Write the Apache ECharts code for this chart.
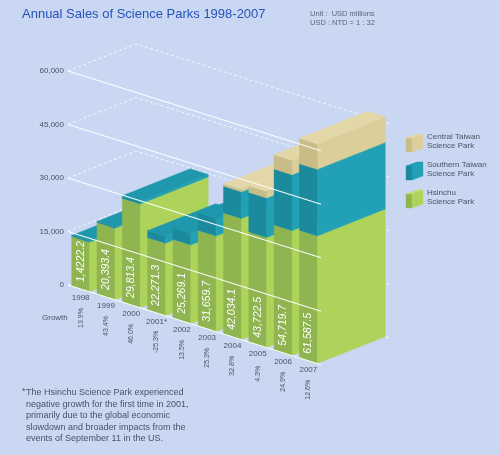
<!DOCTYPE html>
<html>
<head>
<meta charset="utf-8">
<script src="https://cdn.jsdelivr.net/npm/echarts@6/dist/echarts.min.js"></script>
<style>
html,body{margin:0;padding:0;background:#c9d7f3;}
#chart{width:500px;height:455px;}
</style>
</head>
<body>
<div id="chart"></div>
<script>
// ---- data ----
const years = ['1998','1999','2000','2001*','2002','2003','2004','2005','2006','2007'];
const hsinchu  = [13900, 20050, 29060, 20300, 22040, 26800, 33940, 30840, 35000, 35740];
const southern = [322.2, 343.4, 753.4, 1971.3, 3229.1, 4859.7, 7494.1, 11082.5, 15700, 18700];
const central  = [0, 0, 0, 0, 0, 0, 600, 1800, 4019.7, 7147.5];
const totalLabels = ['1,4222.2','20,393.4','29,813.4','22,271.3','25,269.1','31,659.7','42,034.1','43,722.5','54,719.7','61,587.5'];
const growth = ['13.9%','43.4%','46.0%','-25.3%','13.5%','25.3%','32.8%','4.3%','24.9%','12.6%'];
const yTicks = [0, 15000, 30000, 45000, 60000];
const parkNames = ['Central Taiwan\nScience Park', 'Southern Taiwan\nScience Park', 'Hsinchu\nScience Park'];

// ---- style ----
const SLOPE = 0.315;          // oblique skew of the category direction
const DEPTH = [68, -27];      // depth vector of the boxes (px)
const HALF_W = 0.355;         // half bar width in category units
const FONT = '"Liberation Sans", Arial, sans-serif';
const TEXT_COL = '#4c5164';
const COLORS = {
  green: {front: '#8fb550', side: '#aed35b', top: '#bcdc6c'},
  teal:  {front: '#1b8a9d', side: '#22a1b6', top: '#1f97ad'},
  tan:   {front: '#c8bd87', side: '#dbce9a', top: '#e3d7a8'}
};

function makeP(api) {
  const X0 = api.coord([-0.5, 0])[0];
  return function (x, y) {
    const p = api.coord([x, y]);
    return [p[0], p[1] + SLOPE * (p[0] - X0)];
  };
}
function add(p, d) { return [p[0] + d[0], p[1] + d[1]]; }

function box(P, xl, xr, y0, y1, col) {
  const fl0 = P(xl, y0), fr0 = P(xr, y0), fr1 = P(xr, y1), fl1 = P(xl, y1);
  const st = (c) => ({fill: c, stroke: c, lineWidth: 0.4});
  return [
    {type: 'polygon', shape: {points: [fl0, fr0, fr1, fl1]}, style: st(col.front)},
    {type: 'polygon', shape: {points: [fr0, add(fr0, DEPTH), add(fr1, DEPTH), fr1]}, style: st(col.side)},
    {type: 'polygon', shape: {points: [fl1, fr1, add(fr1, DEPTH), add(fl1, DEPTH)]}, style: st(col.top)}
  ];
}

function renderBar(params, api) {
  const P = makeP(api);
  const i = api.value(0);
  const h = api.value(1), s = api.value(2), c = api.value(3);
  const children = [];
  const segs = [[0, h, COLORS.green], [h, h + s, COLORS.teal], [h + s, h + s + c, COLORS.tan]];
  segs.forEach(function (sg) {
    if (sg[1] - sg[0] > 0) children.push.apply(children, box(P, i - HALF_W, i + HALF_W, sg[0], sg[1], sg[2]));
  });
  const base = P(i, 0);
  children.push({
    type: 'text', x: base[0], y: base[1] - 7, rotation: Math.PI / 2,
    style: {text: totalLabels[i], fill: '#ffffff', font: 'italic 10.5px ' + FONT, textAlign: 'left', textVerticalAlign: 'middle'}
  });
  children.push({
    type: 'text', x: base[0], y: base[1] + 9,
    style: {text: years[i], fill: TEXT_COL, font: '8px ' + FONT, textAlign: 'center', textVerticalAlign: 'middle'}
  });
  children.push({
    type: 'text', x: base[0], y: base[1] + 29, rotation: Math.PI / 2,
    style: {text: growth[i], fill: TEXT_COL, font: '7px ' + FONT, textAlign: 'center', textVerticalAlign: 'middle'}
  });
  return {type: 'group', children: children};
}

function renderBackGrid(params, api) {
  const P = makeP(api);
  const v = api.value(1);
  const a = P(-0.5, v), b = add(a, DEPTH), c = add(P(9.5, v), DEPTH);
  return {
    type: 'polyline', shape: {points: [a, b, c]},
    style: {stroke: 'rgba(255,255,255,0.8)', lineWidth: 1, lineDash: [3, 2.5], fill: null}
  };
}
function renderFrontGrid(params, api) {
  const P = makeP(api);
  const v = api.value(1);
  const a = P(-0.5, v), b = P(9.5, v);
  return {
    type: 'line', shape: {x1: a[0], y1: a[1], x2: b[0], y2: b[1]},
    style: {stroke: 'rgba(255,255,255,0.95)', lineWidth: 1.1}
  };
}

const barData = years.map((y, i) => [i, hsinchu[i], southern[i], central[i]]);
const tickData = yTicks.map(v => [0, v]);

function legendBox(x, y, col) {
  const w = 6, hgt = 14, d = [11, -4];
  const st = (c) => ({fill: c, stroke: c, lineWidth: 0.4});
  return {
    type: 'group', children: [
      {type: 'polygon', shape: {points: [[x, y], [x + w, y], [x + w, y + hgt], [x, y + hgt]]}, style: st(col.front)},
      {type: 'polygon', shape: {points: [[x + w, y], [x + w + d[0], y + d[1]], [x + w + d[0], y + hgt + d[1]], [x + w, y + hgt]]}, style: st(col.side)},
      {type: 'polygon', shape: {points: [[x, y], [x + w, y], [x + w + d[0], y + d[1]], [x + d[0], y + d[1]]]}, style: st(col.top)}
    ]
  };
}
const legendCols = [COLORS.tan, COLORS.teal, COLORS.green];
const legendTops = [138, 166, 194];
const legendGraphics = [];
parkNames.forEach(function (name, k) {
  legendGraphics.push(legendBox(406, legendTops[k], legendCols[k]));
  legendGraphics.push({
    type: 'text', left: 427, top: legendTops[k] - 6,
    style: {text: name, fill: TEXT_COL, font: '8px ' + FONT, lineHeight: 9.5}
  });
});

const chart = echarts.init(document.getElementById('chart'), null, {renderer: 'canvas'});
chart.setOption({
  backgroundColor: '#c9d7f3',
  animation: false,
  title: {
    text: 'Annual Sales of Science Parks 1998-2007',
    left: 22, top: 8, padding: 0,
    textStyle: {color: '#2553b8', fontSize: 13, fontWeight: 'normal', fontFamily: FONT}
  },
  grid: {left: 68, top: 71, width: 253, height: 214},
  xAxis: {type: 'value', min: -0.5, max: 9.5, show: false},
  yAxis: {
    type: 'value', min: 0, max: 60000, interval: 15000,
    axisLine: {show: false}, axisTick: {show: false}, splitLine: {show: false},
    axisLabel: {
      margin: 4, color: TEXT_COL, fontSize: 8, fontFamily: FONT,
      formatter: function (v) { return v.toLocaleString('en-US'); }
    }
  },
  series: [
    {type: 'custom', name: 'backGrid', renderItem: renderBackGrid, data: tickData, z: 1, silent: true},
    {type: 'custom', name: 'Annual Sales', renderItem: renderBar, data: barData, z: 2,
     encode: {x: 0, y: 1}},
    {type: 'custom', name: 'frontGrid', renderItem: renderFrontGrid, data: tickData, z: 3, silent: true}
  ],
  graphic: [
    {type: 'text', left: 310, top: 10,
     style: {text: 'Unit :  USD millions\nUSD : NTD = 1 : 32', fill: '#5f6476', font: '7.5px ' + FONT, lineHeight: 8.5}},
    {type: 'text', left: 42, top: 314,
     style: {text: 'Growth', fill: TEXT_COL, font: '8px ' + FONT}},
    {type: 'text', left: 22, top: 387,
     style: {text: '*', fill: TEXT_COL, font: '9px ' + FONT}},
    {type: 'text', left: 26, top: 387,
     style: {text: 'The Hsinchu Science Park experienced\nnegative growth for the first time in 2001,\nprimarily due to the global economic\nslowdown and broader impacts from the\nevents of September 11 in the US.',
             fill: TEXT_COL, font: '9px ' + FONT, lineHeight: 11.5}}
  ].concat(legendGraphics)
});
</script>
</body>
</html>
